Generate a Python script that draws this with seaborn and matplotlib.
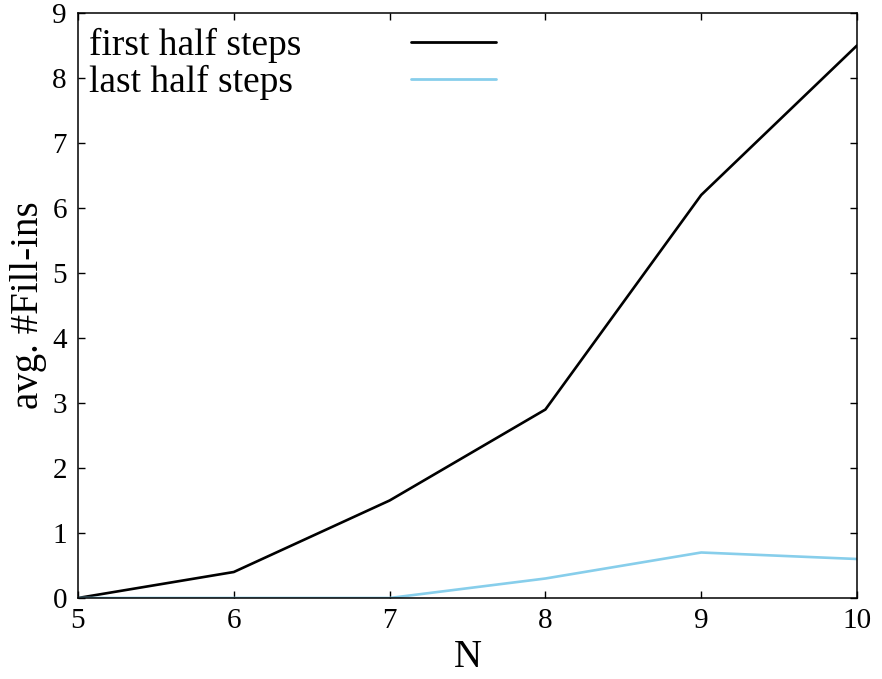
import numpy as np
import pandas as pd
import matplotlib
matplotlib.use("Agg")
import matplotlib.pyplot as plt
import seaborn as sns

# Data
N = [5, 6, 7, 8, 9, 10]
first_half = [0.0, 0.4, 1.5, 2.9, 6.2, 8.5]
last_half = [0.0, 0.0, 0.0, 0.3, 0.7, 0.6]
series_names = ["first half steps", "last half steps"]
colors = ["#000000", "#87ceeb"]
x_ticks = [5, 6, 7, 8, 9, 10]
y_ticks = [0, 1, 2, 3, 4, 5, 6, 7, 8, 9]

df = pd.DataFrame({
    "N": N * 2,
    "value": first_half + last_half,
    "series": [series_names[0]] * len(N) + [series_names[1]] * len(N),
})

sns.set_style("ticks")
plt.rcParams["font.family"] = ["Liberation Serif", "DejaVu Serif"]
plt.rcParams["text.color"] = "black"
plt.rcParams["axes.labelcolor"] = "black"
plt.rcParams["xtick.color"] = "black"
plt.rcParams["ytick.color"] = "black"

fig = plt.figure(figsize=(8.82, 6.79), dpi=100)
ax = fig.add_axes([78 / 882, 1 - 598 / 679, (857 - 78) / 882, (598 - 13) / 679])

sns.lineplot(data=df, x="N", y="value", hue="series", palette=colors,
             hue_order=series_names, linewidth=1.9, ax=ax, legend=True)

ax.set_xlim(5, 10)
ax.set_ylim(0, 9)
ax.set_xticks(x_ticks)
ax.set_yticks(y_ticks)
ax.tick_params(direction="in", length=5, width=1, top=True, right=True,
               labelsize=21, color="black", labelcolor="black")
ax.tick_params(axis="x", pad=7)
ax.tick_params(axis="y", pad=8)
for s in ax.spines.values():
    s.set_visible(True)
    s.set_linewidth(1.1)
    s.set_color("black")

ax.set_xlabel("N", fontsize=28, labelpad=4, color="black")
ax.set_ylabel("avg. #Fill-ins", fontsize=28, labelpad=4, color="black")

leg = ax.legend(loc="upper left", bbox_to_anchor=(0.014, 0.975), frameon=False,
                markerfirst=False, fontsize=27, handlelength=2.27,
                handletextpad=2.93, labelspacing=0.05, borderpad=0,
                borderaxespad=0)
for line in leg.get_lines():
    line.set_linewidth(2.0)
for t in leg.get_texts():
    t.set_color("black")

fig.canvas.draw()
r = fig.canvas.get_renderer()
texts = leg.get_texts()
widths = [t.get_window_extent(r).width for t in texts]
maxw = max(widths)
try:
    col = leg._legend_handle_box.get_children()[0]
    col.align = "left"
    for row, w in zip(col.get_children(), widths):
        row.sep += (maxw - w) * 72 / fig.dpi
except Exception:
    pass

fig.savefig("out.png", dpi=100)
